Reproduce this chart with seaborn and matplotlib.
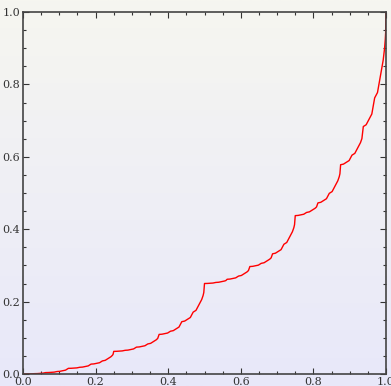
import numpy as np
import pandas as pd
import matplotlib
matplotlib.use("Agg")
import matplotlib.pyplot as plt
import seaborn as sns

# Curve samples (x, y)
x_vals = [
    0.0, 0.0078125, 0.015625, 0.0234375, 0.03125, 0.0390625, 0.046875, 0.0546875,
    0.0625, 0.0703125, 0.078125, 0.0859375, 0.09375, 0.1015625, 0.109375, 0.1171875,
    0.125, 0.1328125, 0.140625, 0.1484375, 0.15625, 0.1640625, 0.171875, 0.1796875,
    0.1875, 0.1953125, 0.203125, 0.2109375, 0.21875, 0.2265625, 0.234375, 0.2421875,
    0.24609375, 0.248046875,
    0.25, 0.2578125, 0.265625, 0.2734375, 0.28125, 0.2890625, 0.296875, 0.3046875,
    0.3125, 0.3203125, 0.328125, 0.3359375, 0.34375, 0.3515625, 0.359375, 0.3671875,
    0.37109375,
    0.375, 0.3828125, 0.390625, 0.3984375, 0.40625, 0.4140625, 0.421875, 0.4296875,
    0.4375, 0.4453125, 0.453125, 0.4609375, 0.46875, 0.4765625, 0.484375, 0.4921875,
    0.49609375, 0.498046875, 0.499023438,
    0.5, 0.5078125, 0.515625, 0.5234375, 0.53125, 0.5390625, 0.546875, 0.5546875,
    0.55859375,
    0.5625, 0.5703125, 0.578125, 0.5859375, 0.59375, 0.6015625, 0.609375, 0.6171875,
    0.62109375,
    0.625, 0.6328125, 0.640625, 0.6484375, 0.65625, 0.6640625, 0.671875, 0.6796875,
    0.68359375,
    0.6875, 0.6953125, 0.703125, 0.7109375, 0.71875, 0.7265625, 0.734375, 0.7421875,
    0.74609375, 0.748046875,
    0.75, 0.7578125, 0.765625, 0.7734375, 0.78125, 0.7890625, 0.796875, 0.8046875,
    0.80859375,
    0.8125, 0.8203125, 0.828125, 0.8359375, 0.84375, 0.8515625, 0.859375, 0.8671875,
    0.87109375, 0.873046875,
    0.875, 0.8828125, 0.890625, 0.8984375, 0.90625, 0.9140625, 0.921875, 0.9296875,
    0.93359375,
    0.9375, 0.9453125, 0.953125, 0.9609375, 0.96875, 0.9765625, 0.984375, 0.9921875,
    0.99609375, 0.998046875, 0.999023438,
    1.0,
]
y_vals = [
    0.0, 0.000061, 0.000244, 0.000427, 0.000977, 0.001160, 0.001709, 0.002258,
    0.003906, 0.004089, 0.004639, 0.005188, 0.006836, 0.007385, 0.009033, 0.010681,
    0.015625, 0.015808, 0.016357, 0.016907, 0.018555, 0.019104, 0.020752, 0.022400,
    0.027344, 0.027893, 0.029541, 0.031189, 0.036133, 0.037781, 0.042725, 0.047668,
    0.0514, 0.0541,
    0.0625, 0.062683, 0.063233, 0.063782, 0.065430, 0.065979, 0.067627, 0.069275,
    0.074219, 0.074768, 0.076416, 0.078064, 0.083008, 0.084656, 0.089600, 0.094544,
    0.0983,
    0.109375, 0.109924, 0.111572, 0.113220, 0.118164, 0.119812, 0.124756, 0.129700,
    0.144531, 0.146180, 0.151123, 0.156067, 0.170898, 0.175842, 0.190674, 0.205505,
    0.2166, 0.2250, 0.2359,
    0.25, 0.250183, 0.250733, 0.251282, 0.252930, 0.253479, 0.255127, 0.256775,
    0.2580,
    0.261719, 0.262268, 0.263916, 0.265564, 0.270508, 0.272156, 0.277100, 0.282044,
    0.2858,
    0.296875, 0.297424, 0.299073, 0.300720, 0.305664, 0.307312, 0.312256, 0.317200,
    0.3209,
    0.332031, 0.333679, 0.338623, 0.343567, 0.358398, 0.363342, 0.378174, 0.393006,
    0.4041, 0.4125,
    0.4375, 0.438049, 0.439698, 0.441345, 0.446289, 0.447937, 0.452881, 0.457825,
    0.4615,
    0.472656, 0.474304, 0.479248, 0.484192, 0.499023, 0.503967, 0.518799, 0.533631,
    0.5448, 0.5531,
    0.578125, 0.579773, 0.584717, 0.589661, 0.604492, 0.609436, 0.624267, 0.639099,
    0.6502,
    0.683594, 0.688538, 0.703369, 0.718201, 0.762695, 0.777527, 0.822021, 0.866516,
    0.8999, 0.9249, 0.9437,
    1.0,
]

x_ticks = [0.0, 0.2, 0.4, 0.6, 0.8, 1.0]
y_ticks = [0.0, 0.2, 0.4, 0.6, 0.8, 1.0]
tick_labels = ["0.0", "0.2", "0.4", "0.6", "0.8", "1.0"]

df = pd.DataFrame({"x": x_vals, "y": y_vals})

sns.set_style("white")
plt.rcParams["font.family"] = ["DejaVu Serif"]

W, H = 391, 386
fig = plt.figure(figsize=(W / 100, H / 100), dpi=100)

# vertical background gradient over the whole figure
bg = fig.add_axes([0, 0, 1, 1], zorder=0)
top_c = np.array([246, 246, 240]) / 255.0
bot_c = np.array([232, 232, 250]) / 255.0
t = np.linspace(0, 1, 256)[:, None]
grad = (top_c[None, :] * (1 - t) + bot_c[None, :] * t)[:, None, :]
bg.imshow(grad, aspect="auto", extent=[0, 1, 0, 1])
bg.set_axis_off()

ax = fig.add_axes([23 / W, 12 / H, 363 / W, 362 / H], zorder=1)
ax.patch.set_alpha(0)
sns.lineplot(data=df, x="x", y="y", ax=ax, color="#ff0000", linewidth=1.0,
             estimator=None, sort=False)

ax.set_xlim(0, 1)
ax.set_ylim(0, 1)
ax.set_xlabel("")
ax.set_ylabel("")
ax.set_xticks(x_ticks)
ax.set_xticklabels(tick_labels)
ax.set_yticks(y_ticks)
ax.set_yticklabels(tick_labels)
ax.set_xticks(np.arange(0, 1.0001, 0.05), minor=True)
ax.set_yticks(np.arange(0, 1.0001, 0.05), minor=True)

for side in ["left", "right", "top", "bottom"]:
    ax.spines[side].set_visible(True)
    ax.spines[side].set_color("#444444")
    ax.spines[side].set_linewidth(1.2)

ax.tick_params(which="both", direction="in", top=True, right=True,
               bottom=True, left=True, color="#333333", width=0.8,
               labelsize=8, labelcolor="#333333")
ax.tick_params(which="major", length=4.5, pad=2)
ax.tick_params(which="minor", length=2.5)

fig.savefig("out.png", dpi=100)
